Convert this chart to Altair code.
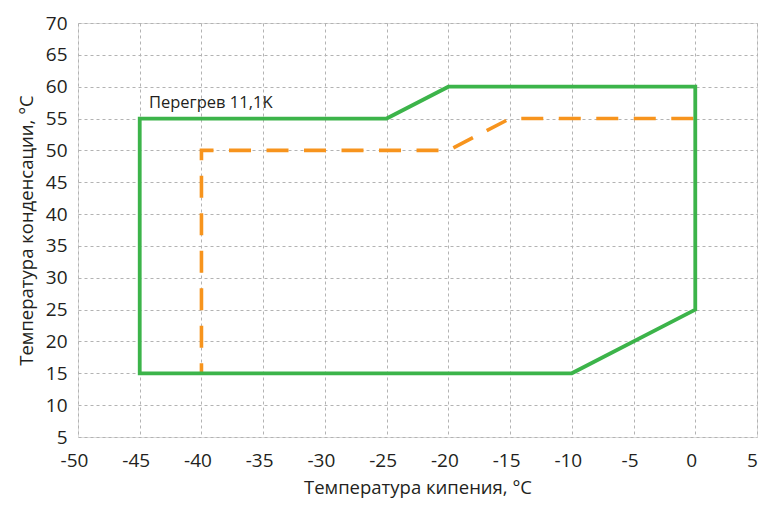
import altair as alt
import pandas as pd

# Green envelope (boundary of the operating range)
green_x = [-45, -45, -25, -20, 0, 0, -10, -45]
green_y = [15, 55, 55, 60, 60, 25, 15, 15]

# Orange dashed boundary (superheat 11.1K)
orange_x = [0, -15, -20, -40, -40]
orange_y = [55, 55, 50, 50, 15]

x_ticks = list(range(-50, 10, 5))
y_ticks = list(range(5, 75, 5))

label_text = "Перегрев 11,1K"

FONT = "Open Sans"
TEXT_COLOR = "#231f20"

green_df = pd.DataFrame({"x": green_x, "y": green_y, "o": list(range(len(green_x)))})
orange_df = pd.DataFrame({"x": orange_x, "y": orange_y, "o": list(range(len(orange_x)))})
label_df = pd.DataFrame({"x": [-44.25], "y": [56.6], "t": [label_text]})

x_scale = alt.Scale(domain=[-50, 5], nice=False, zero=False)
y_scale = alt.Scale(domain=[5, 70], nice=False, zero=False)

x_axis = alt.Axis(
    values=x_ticks, title="Температура кипения, °C", grid=True,
    gridDash=[3, 3], gridColor="#b3b3b3", gridWidth=1,
    domain=False, ticks=False, labelFontSize=19, labelPadding=14,
    labelColor=TEXT_COLOR, labelFont=FONT, titleFont=FONT, titleFontSize=18.5,
    titleFontWeight="normal", titleColor=TEXT_COLOR, titlePadding=8,
    labelFlush=False, labelOverlap=False,
    labelOffset={"condition": {"test": "datum.value == 5", "value": -5}, "value": -4},
    labelExpr="toString(datum.value)",
)
y_axis = alt.Axis(
    values=y_ticks, title="Температура конденсации, °C", grid=True,
    gridDash=[3, 3], gridColor="#b3b3b3", gridWidth=1,
    domain=False, ticks=False, labelFontSize=19, labelPadding=11,
    labelColor=TEXT_COLOR, labelFont=FONT, titleFont=FONT, titleFontSize=18.5,
    titleFontWeight="normal", titleColor=TEXT_COLOR, titlePadding=9,
    labelFlush=False, labelOverlap=False,
    labelExpr="toString(datum.value)",
)

X = alt.X("x:Q", scale=x_scale, axis=x_axis)
Y = alt.Y("y:Q", scale=y_scale, axis=y_axis)

green = alt.Chart(green_df).mark_line(
    color="#3cb44a", strokeWidth=3.8, strokeJoin="miter", strokeCap="square"
).encode(x=X, y=Y, order="o:Q")

orange = alt.Chart(orange_df).mark_line(
    color="#f7941d", strokeWidth=3.6, strokeDash=[22, 15.5], strokeDashOffset=35.5,
    strokeJoin="miter",
).encode(x=X, y=Y, order="o:Q")

label = alt.Chart(label_df).mark_text(
    align="left", baseline="alphabetic", fontSize=16.5, font=FONT, color=TEXT_COLOR
).encode(x=X, y=Y, text="t:N")

chart = alt.layer(orange, green, label).properties(
    width=679, height=414,
    autosize=alt.AutoSizeParams(type="none"),
    padding={"left": 70, "top": 15, "right": 1, "bottom": 64},
).configure_view(
    stroke="#a7a7a7", strokeWidth=2
).configure(background="white")

chart.save("out.html", embed_options={"renderer": "svg", "actions": False})
